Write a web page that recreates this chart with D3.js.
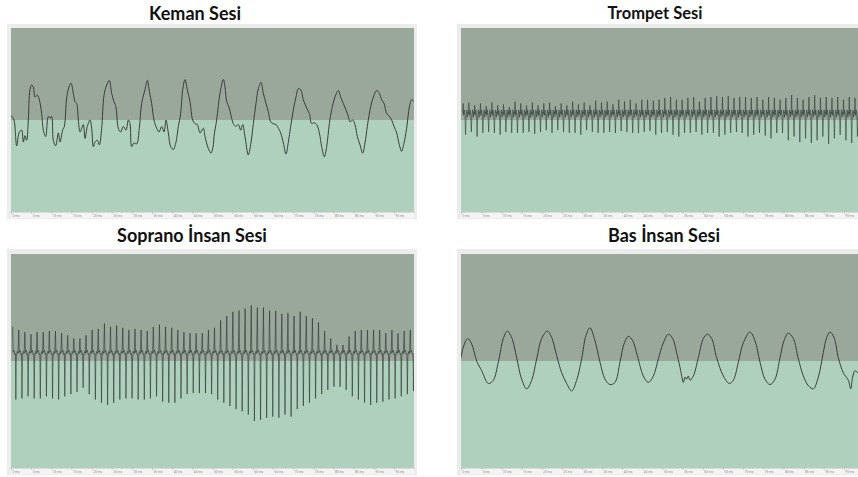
<!DOCTYPE html>
<html><head><meta charset="utf-8">
<script src="https://cdn.jsdelivr.net/npm/d3@7"></script>
<style>body{margin:0;background:#fff}svg{display:block}</style>
</head><body>
<svg id="chart" width="858" height="477"></svg>
<script>
// ---------- DATA ----------
const titles = ["Keman Sesi", "Trompet Sesi", "Soprano İnsan Sesi", "Bas İnsan Sesi"];
const tickValues = [0,5,10,15,20,25,30,35,40,45,50,55,60,65,70,75,80,85,90,95];
const tickLabels = ["0 ms","5 ms","10 ms","15 ms","20 ms","25 ms","30 ms","35 ms","40 ms","45 ms",
  "50 ms","55 ms","60 ms","65 ms","70 ms","75 ms","80 ms","85 ms","90 ms","95 ms"];

// Violin: [time ms, amplitude]
const kemanWave = [[0,0.05],[0.17,0.04],[0.74,0],[1.41,-0.28],[2.07,-0.13],[2.65,-0.11],[3.06,-0.24],[3.47,-0.17],[3.89,-0.22],[4.30,0],[4.71,0.33],[5.13,0.38],[5.54,0.36],[5.96,0.25],[6.53,0.27],[7.03,0.22],[7.61,0.07],[8.02,-0.11],[8.60,-0.18],[9.26,0.04],[9.68,0.02],[10.09,0.04],[10.50,-0.22],[11.08,-0.28],[11.75,-0.14],[12.16,-0.24],[12.82,-0.11],[13.23,-0.07],[13.81,0.24],[14.39,0.36],[14.89,0.40],[15.47,0.29],[15.88,0.20],[16.29,0.18],[16.71,0],[17.12,-0.13],[17.54,-0.09],[17.95,-0.05],[18.36,-0.20],[18.94,-0.07],[19.60,0],[20.02,-0.09],[20.43,-0.29],[20.84,-0.24],[21.42,-0.22],[21.92,-0.27],[22.50,-0.09],[23.08,0.27],[23.74,0.38],[24.40,0.43],[24.98,0.29],[25.56,0.20],[26.05,0.14],[26.63,-0.09],[27.21,-0.13],[27.87,-0.07],[28.54,-0.11],[29.11,0],[29.53,-0.04],[29.94,-0.29],[30.52,-0.25],[31.18,-0.26],[31.84,-0.09],[32.42,0.18],[33.25,0.33],[33.83,0.43],[34.33,0.31],[34.90,0.18],[35.48,0],[36.15,-0.09],[36.72,-0.13],[37.39,-0.07],[37.97,-0.13],[38.46,0],[39.04,-0.14],[39.62,-0.29],[40.28,-0.32],[40.94,-0.24],[41.52,-0.07],[42.10,0.07],[42.60,0.33],[43.18,0.44],[43.75,0.33],[44.42,0.20],[45.08,0],[45.66,-0.04],[46.24,-0.05],[46.90,-0.14],[47.73,-0.09],[48.14,-0.18],[48.97,-0.31],[49.63,-0.36],[50.21,-0.27],[50.37,-0.18],[51.03,0],[51.86,0.29],[52.69,0.44],[53.10,0.36],[53.52,0.20],[54.09,0.14],[54.59,0.05],[55.17,-0.04],[55.75,-0.07],[56.41,-0.05],[56.99,-0.11],[57.49,-0.05],[58.06,-0.18],[58.89,-0.38],[59.47,-0.27],[60.13,-0.04],[60.79,0.18],[61.37,0.34],[62.03,0.41],[62.61,0.29],[63.28,0.18],[63.85,0.09],[64.43,-0.02],[65.10,-0.04],[65.76,-0.05],[66.34,-0.09],[66.91,-0.14],[67.58,-0.25],[68.24,-0.37],[68.82,-0.24],[69.40,-0.07],[70.06,0.11],[70.72,0.25],[71.30,0.34],[71.88,0.33],[72.54,0.22],[73.37,0.13],[74.03,0.07],[74.61,-0.04],[75.19,-0.03],[75.85,-0.05],[76.51,-0.14],[77.09,-0.29],[77.75,-0.40],[78.33,-0.29],[78.99,-0.04],[79.57,0.11],[80.40,0.25],[81.22,0.32],[81.80,0.25],[82.46,0.18],[83.13,0.11],[83.71,0.04],[84.12,-0.02],[84.78,0],[85.36,-0.05],[85.94,-0.18],[86.60,-0.27],[87.26,-0.36],[87.84,-0.25],[88.42,-0.07],[89.08,0.11],[89.91,0.25],[90.74,0.32],[91.40,0.29],[91.98,0.22],[92.56,0.18],[93.22,0.07],[93.88,0.04],[94.46,0],[95.04,-0.07],[95.70,-0.14],[96.36,-0.27],[96.94,-0.34],[97.52,-0.25],[98.18,-0.09],[98.84,0.14],[99.42,0.22],[100,0.20]];

// Trumpet: one spike pair per cycle
const trompetStart = 0.42, trompetPeriod = 1.43;
const trompetPeaks = [0.18,0.19,0.16,0.18,0.15,0.19,0.16,0.17,0.14,0.20,0.18,0.16,0.19,0.16,0.18,0.19,0.15,0.18,0.16,0.20,0.17,0.19,0.16,0.21,0.19,0.20,0.17,0.22,0.20,0.22,0.18,0.22,0.22,0.21,
  0.22,0.24,0.25,0.22,0.22,0.24,0.25,0.20,0.24,0.25,0.26,0.25,0.26,0.24,0.25,0.25,0.24,0.25,0.22,0.25,0.24,0.22,0.24,0.27,0.24,0.22,0.25,0.27,0.24,0.25,0.24,0.25,0.22,0.25,0.24,0.23];
const trompetTroughs = [-0.16,-0.13,-0.18,-0.14,-0.13,-0.14,-0.16,-0.13,-0.14,-0.14,-0.14,-0.13,-0.15,-0.13,-0.11,-0.14,-0.11,-0.13,-0.14,-0.14,-0.16,-0.11,-0.13,-0.14,-0.14,-0.13,-0.14,-0.12,-0.13,-0.14,-0.14,-0.13,-0.12,-0.16,
  -0.14,-0.13,-0.16,-0.18,-0.14,-0.14,-0.13,-0.16,-0.14,-0.14,-0.18,-0.16,-0.14,-0.13,-0.14,-0.18,-0.16,-0.14,-0.17,-0.20,-0.14,-0.14,-0.22,-0.18,-0.24,-0.20,-0.25,-0.22,-0.18,-0.26,-0.20,-0.16,-0.22,-0.25,-0.18,-0.20];
// shape of one trumpet cycle: [fraction of period, level] ("p" = peak, "t" = trough)
const trompetShape = [[0,0.07],[0.08,"p"],[0.16,0.05],[0.28,0.11],[0.40,0.04],[0.50,"t"],[0.60,0.05],[0.72,0.11],[0.84,0.03],[0.93,0.09]];

// Soprano: one peak and one trough per cycle
const sopranoStart = 0.41, sopranoPeriod = 1.518;
const sopranoPeaks = [0.32,0.29,0.27,0.25,0.27,0.27,0.28,0.28,0.26,0.24,0.21,0.21,0.24,0.29,0.30,0.35,0.32,0.33,0.31,0.29,0.30,0.29,0.28,0.32,0.34,0.32,0.31,0.29,0.27,0.26,0.26,0.26,0.29,0.31,0.38,0.42,0.46,0.47,0.49,0.52,0.50,0.50,0.47,0.47,0.44,0.45,0.42,0.46,0.42,0.40,0.36,0.28,0.21,0.15,0.15,0.23,0.28,0.29,0.29,0.29,0.29,0.26,0.29,0.26,0.28,0.29];
const sopranoTroughs = [-0.36,-0.35,-0.33,-0.35,-0.35,-0.33,-0.35,-0.36,-0.33,-0.31,-0.29,-0.25,-0.31,-0.36,-0.39,-0.41,-0.39,-0.36,-0.35,-0.35,-0.36,-0.36,-0.35,-0.33,-0.38,-0.39,-0.39,-0.35,-0.31,-0.30,-0.30,-0.30,-0.31,-0.36,-0.39,-0.42,-0.45,-0.47,-0.50,-0.56,-0.55,-0.53,-0.52,-0.53,-0.50,-0.52,-0.45,-0.42,-0.39,-0.35,-0.31,-0.27,-0.24,-0.24,-0.27,-0.33,-0.36,-0.39,-0.41,-0.39,-0.38,-0.36,-0.35,-0.33,-0.31,-0.28];
const sopranoShape = [[0,"p"],[0.08,0.08],[0.22,0.10],[0.34,0.06],[0.45,0.07],[0.52,"t"],[0.6,0.04],[0.74,0.09],[0.88,0.07]];

// Bass: [time ms, amplitude]
const basWave = [[0,0.03],[0.58,0.13],[1.65,0.21],[2.65,0.16],[3.89,0],[5.13,-0.09],[6.78,-0.21],[8.02,-0.18],[9.26,-0.01],[10.50,0.21],[11.50,0.28],[12.57,0.22],[13.81,0.03],[15.05,-0.17],[16.29,-0.26],[17.54,-0.18],[18.78,0.02],[20.02,0.21],[21.42,0.28],[22.50,0.22],[23.74,0.05],[24.98,-0.11],[26.22,-0.21],[27.46,-0.28],[28.70,-0.18],[29.94,0.02],[31.02,0.24],[32.01,0.31],[33.09,0.21],[34.49,-0.01],[35.73,-0.17],[36.97,-0.22],[38.21,-0.20],[39.45,-0.01],[40.45,0.16],[41.52,0.23],[42.60,0.19],[43.75,0.05],[45.24,-0.14],[46.48,-0.20],[47.73,-0.14],[48.97,0.02],[50.21,0.17],[51.45,0.25],[52.52,0.21],[53.68,0.05],[54.51,-0.09],[54.76,-0.14],[55.17,-0.20],[55.60,-0.15],[55.99,-0.17],[56.40,-0.14],[56.82,-0.18],[57.65,-0.14],[58.89,0.03],[60.13,0.21],[61.12,0.25],[62.20,0.21],[63.44,0.03],[65.10,-0.14],[66.58,-0.21],[67.58,-0.18],[68.82,-0.01],[70.06,0.17],[71.71,0.27],[72.95,0.19],[74.19,-0.01],[75.43,-0.17],[76.67,-0.22],[77.91,-0.17],[79.16,0.03],[80.15,0.19],[81.22,0.26],[82.46,0.21],[83.71,0.02],[84.95,-0.14],[86.19,-0.23],[87.43,-0.26],[88.67,-0.15],[89.91,0.08],[90.74,0.22],[91.56,0.27],[92.56,0.22],[93.63,0.03],[94.87,-0.11],[96.11,-0.18],[96.69,-0.26],[97.19,-0.15],[97.77,-0.09],[98.51,-0.11],[100,-0.06]];

// ---------- BUILD ----------
function fromCycles(start, period, peaks, troughs, shape) {
  const pts = [];
  peaks.forEach((p, i) => {
    shape.forEach(([f, lvl]) => {
      const v = lvl === "p" ? p : lvl === "t" ? troughs[i] : lvl;
      pts.push([start + (i + f) * period, v]);
    });
  });
  return pts.filter(d => d[0] <= 100.5);
}

const series = [
  {data: kemanWave, curve: d3.curveCatmullRom.alpha(0.5), w: 0.9, c: "#2c312d"},
  {data: fromCycles(trompetStart, trompetPeriod, trompetPeaks, trompetTroughs, trompetShape), curve: d3.curveLinear, w: 0.6, c: "#2f3a33"},
  {data: fromCycles(sopranoStart, sopranoPeriod, sopranoPeaks, sopranoTroughs, sopranoShape), curve: d3.curveLinear, w: 0.6, c: "#2a322d"},
  {data: basWave, curve: d3.curveCatmullRom.alpha(0.5), w: 0.9, c: "#2c312d"}
];

const layout = [
  {fx:7,   fy:24,  fw:410, fh:195, px:11,  py:28,  pw:403, ph:184, tx:195, ty:20,  ts:18},
  {fx:457, fy:24,  fw:410, fh:195, px:461, py:28,  pw:403, ph:184, tx:655, ty:19,  ts:16.5},
  {fx:7,   fy:249, fw:410, fh:226, px:11,  py:254, pw:403, ph:214, tx:192, ty:242, ts:18},
  {fx:457, fy:249, fw:410, fh:226, px:461, py:254, pw:403, ph:214, tx:664, ty:242, ts:18}
];

const svg = d3.select("#chart");

layout.forEach((L, i) => {
  const g = svg.append("g");
  const x = d3.scaleLinear().domain([0, 100]).range([L.px, L.px + L.pw]);
  const y = d3.scaleLinear().domain([-1, 1]).range([L.py + L.ph, L.py]);

  g.append("rect").attr("x", L.fx).attr("y", L.fy).attr("width", L.fw).attr("height", L.fh)
    .attr("fill", "#ececec");
  g.append("rect").attr("x", L.px).attr("y", L.fy + L.fh - 7).attr("width", L.pw).attr("height", 6)
    .attr("fill", "#f4f4f4");
  // upper (dark) and lower (light) halves
  g.append("rect").attr("x", x(0)).attr("y", y(1)).attr("width", x(100) - x(0)).attr("height", y(0) - y(1))
    .attr("fill", "#9aa89c");
  g.append("rect").attr("x", x(0)).attr("y", y(0)).attr("width", x(100) - x(0)).attr("height", y(-1) - y(0))
    .attr("fill", "#aed0bc");

  // time axis
  const ax = g.append("g").attr("transform", `translate(0,${y(-1)})`)
    .call(d3.axisBottom(x).tickValues(tickValues).tickSize(1.5).tickFormat((d, k) => tickLabels[k]));
  ax.select(".domain").attr("stroke", "#c8c8c8").attr("stroke-width", 0.6);
  ax.selectAll(".tick line").attr("stroke", "#999").attr("stroke-width", 0.6);
  ax.selectAll(".tick text").attr("font-size", 3.2).attr("fill", "#8a8a8a").attr("y", 3)
    .attr("dy", "0.7em").attr("text-anchor", "start").attr("dx", 1).attr("font-family", "Roboto, sans-serif");

  // waveform
  const clipId = "clip" + i;
  g.append("clipPath").attr("id", clipId).append("rect")
    .attr("x", x(0)).attr("y", y(1)).attr("width", x(100) - x(0)).attr("height", y(-1) - y(1));
  const line = d3.line().x(d => x(d[0])).y(d => y(d[1])).curve(series[i].curve);
  g.append("path").datum(series[i].data).attr("d", line).attr("clip-path", `url(#${clipId})`)
    .attr("fill", "none").attr("stroke", series[i].c).attr("stroke-width", series[i].w)
    .attr("stroke-linejoin", "round");

  // title
  svg.append("text").attr("x", L.tx).attr("y", L.ty).attr("text-anchor", "middle")
    .attr("font-family", "Lato, 'Open Sans', sans-serif").attr("font-weight", 700)
    .attr("font-size", L.ts).attr("fill", "#111").text(titles[i]);
});
</script>
</body></html>
